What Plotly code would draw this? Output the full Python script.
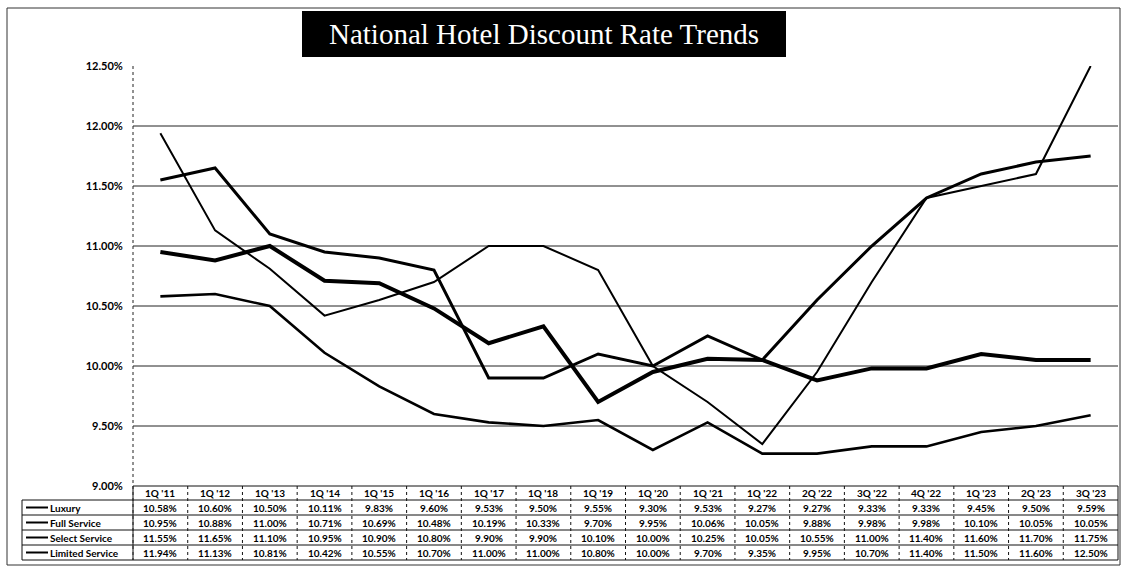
import plotly.graph_objects as go

quarters = ["1Q '11", "1Q '12", "1Q '13", "1Q '14", "1Q '15", "1Q '16", "1Q '17", "1Q '18",
            "1Q '19", "1Q '20", "1Q '21", "1Q '22", "2Q '22", "3Q '22", "4Q '22", "1Q '23",
            "2Q '23", "3Q '23"]

luxury = [10.58, 10.60, 10.50, 10.11, 9.83, 9.60, 9.53, 9.50, 9.55, 9.30, 9.53, 9.27,
          9.27, 9.33, 9.33, 9.45, 9.50, 9.59]
full_service = [10.95, 10.88, 11.00, 10.71, 10.69, 10.48, 10.19, 10.33, 9.70, 9.95, 10.06, 10.05,
                9.88, 9.98, 9.98, 10.10, 10.05, 10.05]
select_service = [11.55, 11.65, 11.10, 10.95, 10.90, 10.80, 9.90, 9.90, 10.10, 10.00, 10.25, 10.05,
                  10.55, 11.00, 11.40, 11.60, 11.70, 11.75]
limited_service = [11.94, 11.13, 10.81, 10.42, 10.55, 10.70, 11.00, 11.00, 10.80, 10.00, 9.70, 9.35,
                   9.95, 10.70, 11.40, 11.50, 11.60, 12.50]

series_names = ["Luxury", "Full Service", "Select Service", "Limited Service"]
series_values = [luxury, full_service, select_service, limited_service]
series_widths = [2.6, 4, 3, 2]

y_ticks = [9.0, 9.5, 10.0, 10.5, 11.0, 11.5, 12.0, 12.5]
y_tick_text = ["9.00%", "9.50%", "10.00%", "10.50%", "11.00%", "11.50%", "12.00%", "12.50%"]

W, H = 1124, 582
ML, MR, MT, MB = 133, 6, 66, 96
PW, PH = W - ML - MR, H - MT - MB
N = len(quarters)

def px_x(px):
    return (px - ML) / PW

def px_y(py):
    return (H - MB - py) / PH

def cat_x(i):
    return (i + 0.5) / N

fig = go.Figure()
for name, vals, w in zip(series_names, series_values, series_widths):
    fig.add_trace(go.Scatter(x=quarters, y=vals, mode="lines", name=name,
                             line=dict(color="black", width=w), showlegend=False))

sans = "Lato, 'Noto Sans', sans-serif"
label_font = dict(family=sans, size=10, color="black", weight="bold")
shapes = []
annotations = []

# horizontal gridlines between the bottom and top of the value axis
for t in y_ticks[1:-1]:
    shapes.append(dict(type="line", xref="paper", yref="y", x0=0, x1=1, y0=t, y1=t,
                       layer="below", line=dict(color="#222", width=1)))

# data table under the plot
header_top, row_h, header_h = H - MB, 15, 14
row_tops = [header_top + header_h + k * row_h for k in range(len(series_names))]
table_bottom = row_tops[-1] + row_h
label_left = 22

line_style = dict(color="#111", width=1)
shapes.append(dict(type="line", xref="paper", yref="paper", x0=0, x1=1,
                   y0=px_y(header_top), y1=px_y(header_top), line=line_style))
for top in row_tops + [table_bottom]:
    shapes.append(dict(type="line", xref="paper", yref="paper", x0=px_x(label_left), x1=1,
                       y0=px_y(top), y1=px_y(top), line=line_style))
for i in range(N + 1):
    shapes.append(dict(type="line", xref="paper", yref="paper", x0=i / N, x1=i / N,
                       y0=px_y(header_top), y1=px_y(table_bottom),
                       line=dict(color="#111", width=1, dash="dot" if 0 < i < N else "solid")))
shapes.append(dict(type="line", xref="paper", yref="paper", x0=px_x(label_left), x1=px_x(label_left),
                   y0=px_y(row_tops[0]), y1=px_y(table_bottom), line=line_style))

for i, q in enumerate(quarters):
    annotations.append(dict(x=cat_x(i), y=px_y(header_top + header_h / 2), xref="paper", yref="paper",
                            text=q, showarrow=False, font=label_font,
                            xanchor="center", yanchor="middle"))

for k, (name, vals, w) in enumerate(zip(series_names, series_values, series_widths)):
    cy = px_y(row_tops[k] + row_h / 2)
    shapes.append(dict(type="line", xref="paper", yref="paper", x0=px_x(label_left + 4),
                       x1=px_x(label_left + 26), y0=cy, y1=cy, line=dict(color="black", width=2)))
    annotations.append(dict(x=px_x(label_left + 26), y=cy, xref="paper", yref="paper", text=name,
                            showarrow=False, font=dict(label_font, size=10),
                            xanchor="left", yanchor="middle"))
    for i, v in enumerate(vals):
        annotations.append(dict(x=cat_x(i), y=cy, xref="paper", yref="paper", text=f"{v:.2f}%",
                                showarrow=False, font=label_font, xanchor="center", yanchor="middle"))

# dotted value axis line
shapes.append(dict(type="line", xref="paper", yref="paper", x0=0, x1=0, y0=1, y1=px_y(table_bottom),
                   line=dict(color="#222", width=1, dash="dot")))

# outer frame
shapes.append(dict(type="rect", xref="paper", yref="paper", x0=px_x(7), x1=px_x(1120),
                   y0=px_y(565), y1=px_y(8), line=dict(color="#333", width=1)))

# title banner
shapes.append(dict(type="rect", xref="paper", yref="paper", x0=px_x(302), x1=px_x(786),
                   y0=px_y(57), y1=px_y(11), fillcolor="black", line=dict(width=0)))
annotations.append(dict(x=px_x(544), y=px_y(34), xref="paper", yref="paper",
                        text="National Hotel Discount Rate Trends", showarrow=False,
                        font=dict(family="Liberation Serif, serif", size=29, color="white"),
                        xanchor="center", yanchor="middle"))

fig.update_layout(
    width=W, height=H,
    margin=dict(l=ML, r=MR, t=MT, b=MB),
    paper_bgcolor="white", plot_bgcolor="white",
    shapes=shapes, annotations=annotations,
    xaxis=dict(range=[-0.5, N - 0.5], showticklabels=False, showgrid=False, zeroline=False,
               showline=False, ticks=""),
    yaxis=dict(range=[9.0, 12.5], tickvals=y_ticks, ticktext=y_tick_text,
               showgrid=False, zeroline=False, showline=False,
               ticks="outside", ticklen=7, tickcolor="white",
               tickfont=dict(family=sans, size=11, color="black", weight="bold")),
)

fig.write_html("out.html")
